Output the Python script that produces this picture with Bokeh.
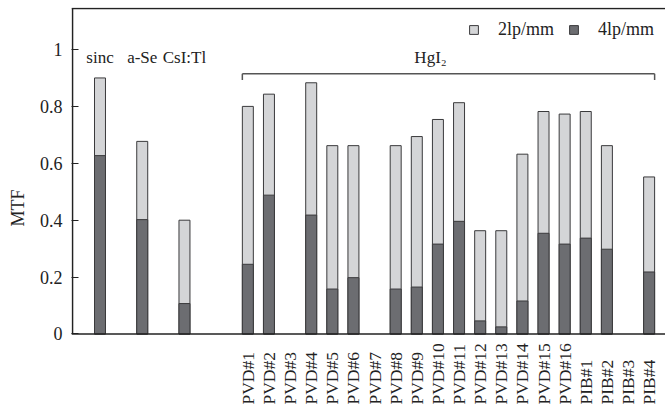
import math
from bokeh.plotting import figure
from bokeh.models import (ColumnDataSource, LabelSet, Label, Span, Legend, LegendItem,
                          FixedTicker, Range1d)
from bokeh.embed import file_html
from bokeh.resources import INLINE

# ---------------- data ----------------
ref_names = ["sinc", "a-Se", "CsI:Tl"]
ref_2lp = [0.90, 0.677, 0.40]
ref_4lp = [0.627, 0.402, 0.107]

hgi2_names = ["PVD#1", "PVD#2", "PVD#3", "PVD#4", "PVD#5", "PVD#6", "PVD#7", "PVD#8",
              "PVD#9", "PVD#10", "PVD#11", "PVD#12", "PVD#13", "PVD#14", "PVD#15",
              "PVD#16", "PIB#1", "PIB#2", "PIB#3", "PIB#4"]
nan = float("nan")
hgi2_2lp = [0.80, 0.843, nan, 0.883, 0.662, 0.662, nan, 0.662, 0.694, 0.754, 0.813,
            0.363, 0.363, 0.632, 0.782, 0.773, 0.782, 0.662, nan, 0.552]
hgi2_4lp = [0.245, 0.488, nan, 0.418, 0.158, 0.198, nan, 0.158, 0.165, 0.316, 0.396,
            0.046, 0.025, 0.116, 0.354, 0.316, 0.337, 0.298, nan, 0.218]

y_ticks = [0, 0.2, 0.4, 0.6, 0.8, 1]
series_labels = ["2lp/mm", "4lp/mm"]
group_label = "HgI\u2082"
y_label = "MTF"

# ---------------- slot layout ----------------
ref_x = [2 * i for i in range(len(ref_names))]
hg_start = ref_x[-1] + 3
hg_x = [hg_start + i for i in range(len(hgi2_names))]

all_x = ref_x + hg_x
all_2lp = ref_2lp + hgi2_2lp
all_4lp = ref_4lp + hgi2_4lp

LIGHT = "#d4d5d7"
DARK = "#6c6d71"
EDGE = "#3a3a3c"
INK = "#222222"
FONT = "Liberation Serif"
BAR_W = 0.52

X0, X1 = -1.349, 26.775
Y0, Y1 = -0.2619, 1.1476
Y_TOP = 1.1441

src = ColumnDataSource(dict(x=all_x, top2=all_2lp, top4=all_4lp))

p = figure(width=665, height=408, output_backend="svg", toolbar_location=None,
           x_range=Range1d(X0, X1), y_range=Range1d(Y0, Y1),
           min_border_left=71, min_border_right=0, min_border_top=7, min_border_bottom=0)
p.outline_line_color = None
p.xgrid.visible = False
p.ygrid.visible = False
p.xaxis.visible = False

r2 = p.vbar(x="x", top="top2", bottom=0, width=BAR_W, source=src,
            fill_color=LIGHT, line_color=EDGE, line_width=1)
r4 = p.vbar(x="x", top="top4", bottom=0, width=BAR_W, source=src,
            fill_color=DARK, line_color=EDGE, line_width=1)

# y axis (ticks + labels only; line drawn as segment so it stops at 0)
ya = p.yaxis[0]
ya.ticker = FixedTicker(ticks=y_ticks)
ya.major_label_overrides = {0: "0", 1: "1"}
ya.major_tick_in = 7
ya.major_tick_out = 0
ya.minor_tick_line_color = None
ya.major_tick_line_color = INK
ya.axis_line_color = None
ya.major_label_text_font = FONT
ya.major_label_text_font_size = "18px"
ya.major_label_text_color = INK
ya.major_label_standoff = 9
ya.axis_label = y_label
ya.axis_label_text_font = FONT
ya.axis_label_text_font_size = "18px"
ya.axis_label_text_font_style = "normal"
ya.axis_label_text_color = INK
ya.axis_label_standoff = 9

# frame lines: left axis, baseline, top border
p.segment(x0=[X0 + 0.047], y0=[0], x1=[X0 + 0.047], y1=[Y_TOP], line_color=INK, line_width=1.6)
p.add_layout(Span(location=0, dimension="width", line_color=INK, line_width=1.6))
p.add_layout(Span(location=Y_TOP, dimension="width", line_color=INK, line_width=1.5))

# category labels below axis (rotated, reading upward)
lab_src = ColumnDataSource(dict(x=hg_x, y=[-0.248] * len(hg_x), text=hgi2_names))
p.add_layout(LabelSet(x="x", y="y", text="text", source=lab_src, angle=math.pi / 2,
                      text_align="left", text_baseline="middle", text_font=FONT,
                      text_font_size="17.5px", text_color=INK))

# reference material labels
ref_src = ColumnDataSource(dict(x=ref_x, y=[0.972] * len(ref_x), text=ref_names))
p.add_layout(LabelSet(x="x", y="y", text="text", source=ref_src,
                      text_align="center", text_baseline="middle", text_font=FONT,
                      text_font_size="17px", text_color=INK))

# HgI2 bracket
bx0 = hg_x[0] - BAR_W / 2
bx1 = hg_x[-1] + BAR_W / 2
by = 0.915
p.segment(x0=[bx0, bx0, bx1], y0=[by, by, by], x1=[bx1, bx0, bx1], y1=[by, by - 0.022, by - 0.022],
          line_color="#555555", line_width=1.5)
p.add_layout(Label(x=(bx0 + bx1) / 2 - 0.85, y=0.972, text=group_label, text_align="center",
                   text_baseline="middle", text_font=FONT, text_font_size="17px",
                   text_color=INK))

legend = Legend(items=[LegendItem(label=series_labels[0], renderers=[r2]),
                       LegendItem(label=series_labels[1], renderers=[r4])],
                orientation="horizontal", location=(397, 368),
                background_fill_alpha=0, border_line_color=None,
                glyph_width=11, glyph_height=11, label_standoff=19, spacing=14,
                padding=11, margin=0, label_text_font=FONT, label_text_font_size="18px",
                label_text_color=INK)
p.add_layout(legend)

open("out.html", "w").write(file_html(p, INLINE))
